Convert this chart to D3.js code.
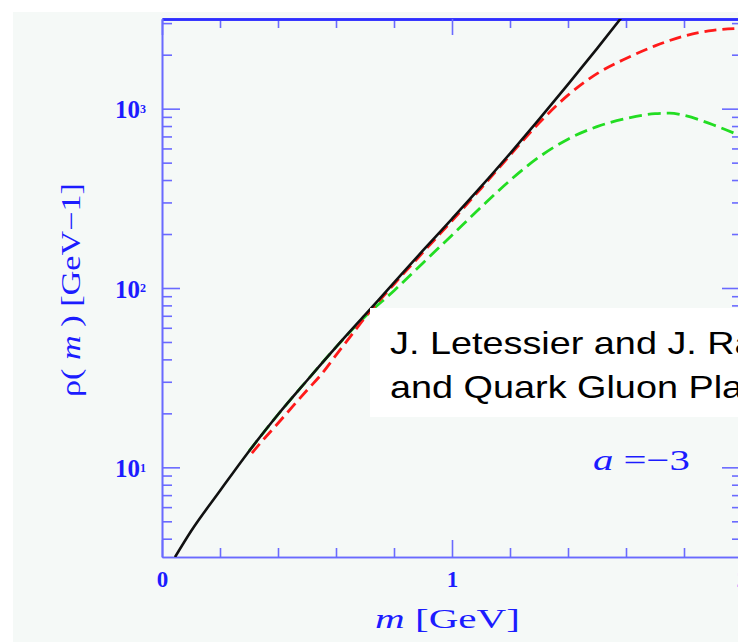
<!DOCTYPE html>
<html>
<head>
<meta charset="utf-8">
<script src="https://cdn.jsdelivr.net/npm/d3@7"></script>
<style>
  html, body { margin: 0; padding: 0; background: #ffffff; }
  svg { display: block; }
</style>
</head>
<body>
<svg id="chart" width="738" height="642"></svg>
<script>
// Hadron mass spectrum rho(m) on a log scale.
// Solid black: reference spectrum; dashed red / green: the two model curves.
const blackMass = [0.045, 0.1, 0.2, 0.3, 0.4, 0.5, 0.6, 0.7, 0.8, 0.9, 1.0, 1.1, 1.2, 1.3, 1.4, 1.5, 1.6];
const blackRho  = [3.16, 4.4, 7.4, 12.3, 19.7, 30.5, 46.8, 70.8, 107, 162, 243, 367, 562, 871, 1365, 2163, 3467];

const redMass = [0.31, 0.35, 0.4, 0.45, 0.5, 0.55, 0.6, 0.65, 0.7, 0.8, 0.9, 1.0, 1.1, 1.2, 1.3, 1.4, 1.5, 1.6, 1.7, 1.8, 1.9, 2.0];
const redRho  = [12.0, 14.3, 17.6, 21.8, 26.9, 33.1, 42.2, 53.7, 68.4, 105, 158, 237, 359, 550, 832, 1189, 1567, 1905, 2239, 2541, 2735, 2805];

const greenMass = [0.3, 0.4, 0.5, 0.6, 0.7, 0.8, 0.9, 1.0, 1.1, 1.2, 1.3, 1.4, 1.5, 1.6, 1.7, 1.75, 1.8, 1.9, 2.0];
const greenRho  = [12.3, 19.7, 30.5, 46.8, 69.2, 96.6, 138, 197, 282, 398, 537, 676, 794, 881, 938, 944, 918, 813, 700];

const xMajorTicks = [0, 1, 2];
const xMinorTicks = [0.2, 0.4, 0.6, 0.8, 1.2, 1.4, 1.6, 1.8];
const yMajorTicks = [10, 100, 1000];
const yMinorTicks = [4, 5, 6, 7, 8, 9, 20, 30, 40, 50, 60, 70, 80, 90, 200, 300, 400, 500, 600, 700, 800, 900, 2000, 3000];

const xDomain = [0, 2];
const yDomain = [Math.pow(10, 0.5), Math.pow(10, 3.5)];

const xLabel = "m";
const xUnit = "[GeV]";
const yLabelParts = ["ρ( ", "m", " )  [GeV−1]"];
const paramLabel = ["a", " =−3"];
const noteLines = ["J. Letessier and J. Rafelski, Hadrons", "and Quark Gluon Plasma"];

// ---- layout ----
const plotLeft = 162, plotRight = 742, plotTop = 19, plotBottom = 557;
const axisBlue = "#6a6aff";
const textBlue = "#1c1cff";
const serif = "'Liberation Serif', 'DejaVu Serif', serif";

const svg = d3.select("#chart");

svg.append("rect")
  .attr("x", 13).attr("y", 12).attr("width", 738 - 13).attr("height", 642 - 12)
  .attr("fill", "#f5f9f7");

const x = d3.scaleLinear().domain(xDomain).range([plotLeft, plotRight]);
const y = d3.scaleLog().domain(yDomain).range([plotBottom, plotTop]);

svg.append("defs").append("clipPath").attr("id", "plotClip")
  .append("rect").attr("x", plotLeft).attr("y", plotTop)
  .attr("width", plotRight - plotLeft).attr("height", plotBottom - plotTop);

// ---- axes (ticks point into the frame) ----
function styleAxis(g, color, width) {
  g.selectAll("path.domain").attr("stroke", color).attr("stroke-width", width);
  g.selectAll(".tick line").attr("stroke", axisBlue).attr("stroke-width", 1.6);
}

// bottom
const gBottomMinor = svg.append("g").attr("transform", `translate(0,${plotBottom})`)
  .call(d3.axisBottom(x).tickValues(xMinorTicks).tickSizeInner(-9).tickSizeOuter(0).tickFormat(""));
styleAxis(gBottomMinor, axisBlue, 1.6);
const gBottom = svg.append("g").attr("transform", `translate(0,${plotBottom})`)
  .call(d3.axisBottom(x).tickValues(xMajorTicks).tickSizeInner(-17).tickSizeOuter(0)
    .tickPadding(14).tickFormat(d3.format("d")));
styleAxis(gBottom, axisBlue, 1.6);
gBottom.selectAll(".tick text")
  .attr("font-family", serif).attr("font-size", 23).attr("font-weight", "bold")
  .attr("fill", textBlue);

// top
const gTopMinor = svg.append("g").attr("transform", `translate(0,${plotTop})`)
  .call(d3.axisTop(x).tickValues(xMinorTicks).tickSizeInner(-9).tickSizeOuter(0).tickFormat(""));
styleAxis(gTopMinor, "#2d2dff", 2.4);
const gTop = svg.append("g").attr("transform", `translate(0,${plotTop})`)
  .call(d3.axisTop(x).tickValues(xMajorTicks).tickSizeInner(-16).tickSizeOuter(0).tickFormat(""));
styleAxis(gTop, "#2d2dff", 2.4);

// left
const gLeftMinor = svg.append("g").attr("transform", `translate(${plotLeft},0)`)
  .call(d3.axisLeft(y).tickValues(yMinorTicks).tickSizeInner(-10).tickSizeOuter(0).tickFormat(""));
styleAxis(gLeftMinor, axisBlue, 1.6);
const gLeft = svg.append("g").attr("transform", `translate(${plotLeft},0)`)
  .call(d3.axisLeft(y).tickValues(yMajorTicks).tickSizeInner(-18).tickSizeOuter(0)
    .tickPadding(16).tickFormat(""));
styleAxis(gLeft, axisBlue, 1.6);
gLeft.selectAll(".tick text")
  .attr("font-family", serif).attr("font-size", 25).attr("font-weight", "bold")
  .attr("fill", textBlue)
  .attr("dy", "0.36em")
  .each(function(d) {
    const t = d3.select(this);
    t.append("tspan").text("10");
    t.append("tspan").attr("dy", "-0.42em").attr("font-size", 12)
      .text(Math.round(Math.log10(d)));
  });

// right
const gRightMinor = svg.append("g").attr("transform", `translate(${plotRight},0)`)
  .call(d3.axisRight(y).tickValues(yMinorTicks).tickSizeInner(-10).tickSizeOuter(0).tickFormat(""));
styleAxis(gRightMinor, axisBlue, 1.6);
const gRight = svg.append("g").attr("transform", `translate(${plotRight},0)`)
  .call(d3.axisRight(y).tickValues(yMajorTicks).tickSizeInner(-20).tickSizeOuter(0).tickFormat(""));
styleAxis(gRight, axisBlue, 1.6);

// ---- curves ----
const line = d3.line()
  .x(d => x(d[0]))
  .y(d => y(d[1]))
  .curve(d3.curveMonotoneX);

const curves = svg.append("g").attr("clip-path", "url(#plotClip)");

curves.append("path")
  .datum(d3.zip(greenMass, greenRho))
  .attr("d", line).attr("fill", "none")
  .attr("stroke", "#22dd22").attr("stroke-width", 2.8)
  .attr("stroke-dasharray", "13,6");

curves.append("path")
  .datum(d3.zip(redMass, redRho))
  .attr("d", line).attr("fill", "none")
  .attr("stroke", "#ff1a1a").attr("stroke-width", 2.8)
  .attr("stroke-dasharray", "12,6");

curves.append("path")
  .datum(d3.zip(blackMass, blackRho))
  .attr("d", line).attr("fill", "none")
  .attr("stroke", "#111111").attr("stroke-width", 2.6);

// ---- axis titles ----
const xt = svg.append("text")
  .attr("x", 375).attr("y", 628)
  .attr("font-family", serif).attr("font-size", 27).attr("fill", textBlue)
  .attr("textLength", 145).attr("lengthAdjust", "spacingAndGlyphs");
xt.append("tspan").attr("font-style", "italic").text(xLabel);
xt.append("tspan").text("  " + xUnit);

const yt = svg.append("text")
  .attr("transform", "translate(80,397) rotate(-90)")
  .attr("font-family", serif).attr("font-size", 27).attr("fill", textBlue)
  .attr("textLength", 214).attr("lengthAdjust", "spacingAndGlyphs");
yt.append("tspan").text(yLabelParts[0]);
yt.append("tspan").attr("font-style", "italic").text(yLabelParts[1]);
yt.append("tspan").text(yLabelParts[2]);

// parameter label
const pt = svg.append("text")
  .attr("x", 593).attr("y", 470)
  .attr("font-family", serif).attr("font-size", 30).attr("fill", textBlue)
  .attr("textLength", 97).attr("lengthAdjust", "spacingAndGlyphs");
pt.append("tspan").attr("font-style", "italic").text(paramLabel[0]);
pt.append("tspan").text(paramLabel[1]);

// ---- citation box ----
svg.append("rect")
  .attr("x", 370).attr("y", 308).attr("width", 420).attr("height", 109)
  .attr("fill", "#ffffff");
const note = svg.append("g").attr("transform", "translate(390,0) scale(1.24,1)");
note.selectAll("text").data(noteLines).join("text")
  .attr("x", 0).attr("y", (d, i) => 354 + i * 44.5)
  .attr("font-family", "'Liberation Sans', Arial, sans-serif")
  .attr("font-size", 30.5).attr("fill", "#000000")
  .text(d => d);
</script>
</body>
</html>
